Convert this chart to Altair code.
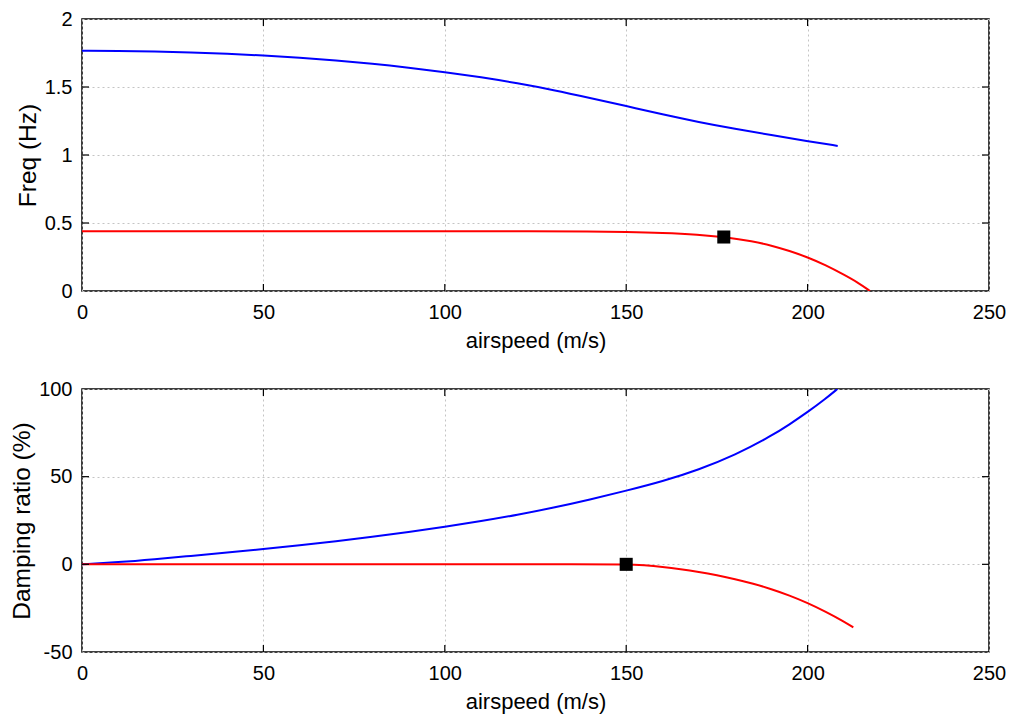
import altair as alt
import pandas as pd

# ---------------- data ----------------
x_ticks = [0, 50, 100, 150, 200, 250]
freq_ticks = [0, 0.5, 1, 1.5, 2]
damp_ticks = [-50, 0, 50, 100]

freq_blue_x = [0, 10, 20, 30, 40, 50, 60, 70, 80, 90, 100, 110, 120, 130, 140, 150, 160, 170, 180, 190, 200, 208.3]
freq_blue_y = [1.767, 1.766, 1.762, 1.755, 1.745, 1.732, 1.715, 1.695, 1.672, 1.643, 1.610, 1.572, 1.528, 1.478,
               1.420, 1.360, 1.298, 1.242, 1.192, 1.146, 1.102, 1.067]
freq_red_x = [0, 25, 50, 75, 100, 125, 140, 150, 160, 170, 176.9, 185, 190, 195, 200, 205, 210, 214, 217.2]
freq_red_y = [0.44, 0.44, 0.44, 0.44, 0.44, 0.439, 0.437, 0.434, 0.428, 0.415, 0.397, 0.365, 0.335, 0.295,
              0.248, 0.19, 0.12, 0.06, 0.0]

damp_blue_x = [0, 10, 20, 30, 40, 50, 60, 70, 80, 90, 100, 110, 120, 130, 140, 150, 160, 170, 180, 190, 195, 200,
               205, 208.2]
damp_blue_y = [0, 1.2, 2.9, 4.8, 6.7, 8.7, 10.8, 13.2, 15.7, 18.4, 21.4, 24.6, 28.2, 32.3, 36.9, 42.0, 47.3,
               54.0, 62.3, 73.2, 79.8, 86.8, 94.5, 100.0]
damp_red_x = [0, 50, 100, 140, 150, 155, 160, 165, 170, 175, 180, 185, 190, 195, 200, 205, 210, 212.6]
damp_red_y = [0, 0, 0, 0, 0, -0.5, -1.4, -2.7, -4.3, -6.2, -8.4, -11.0, -14.1, -17.7, -22.0, -27.0, -32.6, -36.0]

marker_freq_x, marker_freq_y = [176.9], [0.397]
marker_damp_x, marker_damp_y = [150], [0]

W = 907
H_TOP = 272
H_BOT = 263
TICK = 7


def lines_df(bx, by, rx, ry):
    return pd.concat([
        pd.DataFrame({"x": bx, "y": by, "s": "blue"}),
        pd.DataFrame({"x": rx, "y": ry, "s": "red"}),
    ], ignore_index=True)


def panel(df, mx, my, yticks, ydomain, ytitle, H):
    xs = alt.Scale(domain=[0, 250], nice=False, zero=False)
    ys = alt.Scale(domain=ydomain, nice=False, zero=False)
    xaxis = alt.Axis(values=x_ticks, title="airspeed (m/s)", grid=True, ticks=False, domain=False,
                     labelPadding=11, titlePadding=8, labelExpr="'' + datum.value", labelFlush=False)
    yaxis = alt.Axis(values=yticks, title=ytitle, grid=True, ticks=False, domain=False,
                     labelPadding=10, titlePadding=4, labelExpr="'' + datum.value", labelFlush=False)
    X = lambda: alt.X("x:Q", scale=xs, axis=xaxis)
    Y = lambda: alt.Y("y:Q", scale=ys, axis=yaxis)

    lines = alt.Chart(df).mark_line(strokeWidth=2, interpolate="basis", clip=True).encode(
        x=X(), y=Y(),
        color=alt.Color("s:N", scale=alt.Scale(domain=["blue", "red"], range=["#0000ff", "#ff0000"]),
                        legend=None),
    )
    marker = alt.Chart(pd.DataFrame({"x": mx, "y": my})).mark_point(
        shape="square", filled=True, color="black", size=170, opacity=1
    ).encode(x=X(), y=Y())

    xt = pd.DataFrame({"x": x_ticks[1:-1]})
    yt = pd.DataFrame({"y": yticks[1:-1]})
    tick_style = dict(color="black", strokeWidth=1.2)
    xb = alt.Chart(xt).mark_rule(**tick_style).encode(x=X(), y=alt.value(H), y2=alt.value(H - TICK))
    xtp = alt.Chart(xt).mark_rule(**tick_style).encode(x=X(), y=alt.value(0), y2=alt.value(TICK))
    yl = alt.Chart(yt).mark_rule(**tick_style).encode(y=Y(), x=alt.value(0), x2=alt.value(TICK))
    yr = alt.Chart(yt).mark_rule(**tick_style).encode(y=Y(), x=alt.value(W), x2=alt.value(W - TICK))

    return alt.layer(lines, xb, xtp, yl, yr, marker).properties(width=W, height=H)


top = panel(lines_df(freq_blue_x, freq_blue_y, freq_red_x, freq_red_y), marker_freq_x, marker_freq_y,
            freq_ticks, [0, 2], "Freq (Hz)", H_TOP)
bot = panel(lines_df(damp_blue_x, damp_blue_y, damp_red_x, damp_red_y), marker_damp_x, marker_damp_y,
            damp_ticks, [-50, 100], "Damping ratio (%)", H_BOT)

chart = alt.vconcat(top, bot, spacing=26).properties(
    padding={"left": 0, "top": 0, "right": 5, "bottom": 5},
    background="white",
).configure_view(
    stroke="black", strokeWidth=1.5
).configure_axis(
    labelFont="Liberation Sans", titleFont="Liberation Sans",
    labelFontSize=20, labelColor="black", titleColor="black",
    titleFontWeight="normal", gridColor="#c4c4c4", gridDash=[2, 3], gridWidth=1,
).configure_axisX(
    titleFontSize=22
).configure_axisY(
    titleFontSize=24.5
)

chart.save("out.html", embed_options={"renderer": "svg", "actions": False})
